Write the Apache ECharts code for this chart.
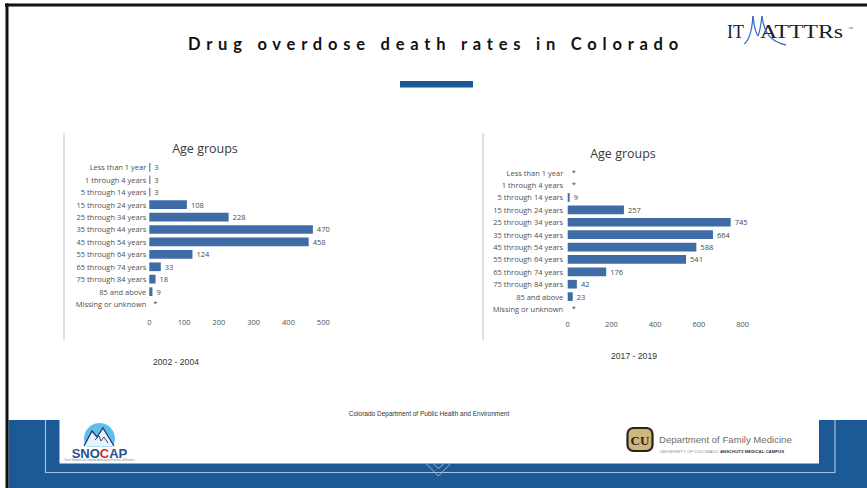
<!DOCTYPE html>
<html>
<head>
<meta charset="utf-8">
<script src="https://cdn.jsdelivr.net/npm/echarts@6/dist/echarts.min.js"></script>
<style>
html,body{margin:0;padding:0;background:#fff;}
#c{width:867px;height:488px;}
</style>
</head>
<body>
<div id="c"></div>
<script>
const categories = ['Less than 1 year','1 through 4 years','5 through 14 years','15 through 24 years','25 through 34 years','35 through 44 years','45 through 54 years','55 through 64 years','65 through 74 years','75 through 84 years','85 and above','Missing or unknown'];
const values2002 = [3,3,3,108,228,470,458,124,33,18,9,null];
const values2017 = [null,null,9,257,745,664,588,541,176,42,23,null];
const ticks2002 = [0,100,200,300,400,500];
const ticks2017 = [0,200,400,600,800];
const period2002 = '2002 - 2004';
const period2017 = '2017 - 2019';
const chartTitle = 'Age groups';
const mainTitle = 'Drug overdose death rates in Colorado';
const sourceText = 'Colorado Department of Public Health and Environment';

const BLUE = '#1b5a97';
const BAR = '#3f6ca6';
const LABEL_FONT = "'Open Sans', 'Noto Sans', sans-serif";

function seriesData(arr){
  return arr.map(v => v === null ? {value:0, label:{formatter:'*', offset:[0,-1]}} : v);
}

const chart = echarts.init(document.getElementById('c'), null, {renderer:'svg'});

const axisLabelStyle = {fontFamily: LABEL_FONT, fontSize: 7.5, color: '#505050'};

function curve(x1,y1,cx1,cy1,cx2,cy2,x2,y2){
  return {type:'bezierCurve', shape:{x1:x1,y1:y1,cpx1:cx1,cpy1:cy1,cpx2:cx2,cpy2:cy2,x2:x2,y2:y2},
          style:{fill:null, stroke:'#3d6fc6', lineWidth:1.3}};
}

const option = {
  animation: false,
  grid: [
    {left: 149.3, top: 161.1, width: 191.4, height: 149.2},
    {left: 567.7, top: 166.5, width: 196.9, height: 148.7}
  ],
  xAxis: [
    {gridIndex:0, type:'value', min:ticks2002[0], max:550, interval:ticks2002[1]-ticks2002[0],
     axisLine:{show:false}, axisTick:{show:false}, splitLine:{show:false},
     axisLabel:Object.assign({margin:8, showMaxLabel:false}, axisLabelStyle)},
    {gridIndex:1, type:'value', min:ticks2017[0], max:900, interval:ticks2017[1]-ticks2017[0],
     axisLine:{show:false}, axisTick:{show:false}, splitLine:{show:false},
     axisLabel:Object.assign({margin:5, showMaxLabel:false}, axisLabelStyle)}
  ],
  yAxis: [
    {gridIndex:0, type:'category', data:categories, inverse:true,
     axisLine:{show:false}, axisTick:{show:false},
     axisLabel:Object.assign({margin:3, interval:0}, axisLabelStyle)},
    {gridIndex:1, type:'category', data:categories, inverse:true,
     axisLine:{show:false}, axisTick:{show:false},
     axisLabel:Object.assign({margin:4.5, interval:0}, axisLabelStyle)}
  ],
  series: [
    {type:'bar', xAxisIndex:0, yAxisIndex:0, data:seriesData(values2002), barCategoryGap:'30%',
     itemStyle:{color:BAR},
     label:{show:true, position:'right', distance:4, fontFamily:LABEL_FONT, fontSize:7.5, color:'#484848'}},
    {type:'bar', xAxisIndex:1, yAxisIndex:1, data:seriesData(values2017), barCategoryGap:'30%',
     itemStyle:{color:BAR},
     label:{show:true, position:'right', distance:4, fontFamily:LABEL_FONT, fontSize:7.5, color:'#484848'}}
  ],
  graphic: [
    // slide border
    {type:'rect', shape:{x:5, y:3.5, width:862, height:3}, style:{fill:'#111'}, z:10},
    {type:'rect', shape:{x:5.5, y:3.5, width:3, height:485}, style:{fill:'#111'}, z:10},
    // main title
    {type:'text', id:'mainTitle', x:188, y:43.5, style:{text:mainTitle, font:"bold 16.5px Lato, 'Open Sans', sans-serif", fill:'#111', textAlign:'left', textVerticalAlign:'middle'}},
    // accent bar
    {type:'rect', shape:{x:400, y:81, width:73, height:6.5}, style:{fill:BLUE}},
    // ITMATTTRs logo
    {type:'text', x:727, y:32, style:{text:'IT', font:"18px 'Liberation Serif', serif", fill:'#1a1d2e', textVerticalAlign:'middle'}},
    {type:'text', x:760, y:32, scaleX:1.32, style:{text:'ATTTRs', font:"18px 'Liberation Serif', serif", fill:'#1a1d2e', textVerticalAlign:'middle'}},
    {type:'text', x:848, y:28, style:{text:'™', font:"5px 'Liberation Serif', serif", fill:'#555', textVerticalAlign:'middle'}},
    curve(744,44, 750,40, 752,30, 753,16),
    curve(753,16, 754,26, 756,33, 758,36),
    curve(758,36, 760,32, 761,24, 762,16),
    curve(762,16, 764,34, 772,42, 786,45),
    // chart frames
    {type:'line', shape:{x1:64, y1:133, x2:64, y2:340}, style:{stroke:'#d6d6d6', lineWidth:1.5}},
    {type:'line', shape:{x1:483, y1:133, x2:483, y2:340}, style:{stroke:'#d6d6d6', lineWidth:1.5}},
    // chart titles
    {type:'text', x:205, y:148.5, style:{text:chartTitle, font:"12.5px 'Open Sans', sans-serif", fill:'#3a3a3a', textAlign:'center', textVerticalAlign:'middle'}},
    {type:'text', x:623, y:153, style:{text:chartTitle, font:"12.5px 'Open Sans', sans-serif", fill:'#3a3a3a', textAlign:'center', textVerticalAlign:'middle'}},
    // periods
    {type:'text', x:176, y:361.5, style:{text:period2002, font:"normal 8.6px 'Liberation Sans', Arial, sans-serif", fill:'#333', textAlign:'center', textVerticalAlign:'middle'}},
    {type:'text', x:634, y:356, style:{text:period2017, font:"normal 8.6px 'Liberation Sans', Arial, sans-serif", fill:'#333', textAlign:'center', textVerticalAlign:'middle'}},
    // footer band
    {type:'rect', shape:{x:8.5, y:420, width:859, height:68}, style:{fill:BLUE}},
    {type:'rect', shape:{x:59.5, y:415, width:759.5, height:48.5}, style:{fill:'#fff'}},
    {type:'polyline', shape:{points:[[45.5,420],[45.5,472.5],[835,472.5],[835,420]]}, style:{stroke:'#a7bfda', lineWidth:1.2, fill:null}},
    {type:'polyline', shape:{points:[[426,463.5],[438.3,476],[450.7,463.5]]}, style:{stroke:'#9ab6d6', lineWidth:1, fill:null}},
    {type:'polyline', shape:{points:[[433,463.5],[438.5,468.5],[444,463.5]]}, style:{stroke:'#9ab6d6', lineWidth:1, fill:null}},
    {type:'text', x:429, y:413.5, style:{text:sourceText, font:"normal 6.5px 'Liberation Sans', Arial, sans-serif", fill:'#333', textAlign:'center', textVerticalAlign:'middle'}},
    // SNOCAP logo
    {type:'circle', shape:{cx:99.5, cy:438.5, r:15.5}, style:{fill:'#5bbfea'}},
    {type:'rect', shape:{x:80, y:446.5, width:40, height:10}, style:{fill:'#fff'}},
    {type:'polyline', shape:{points:[[84,446],[92,431],[97,437],[103,428],[114,446]]}, style:{stroke:'#23386b', lineWidth:1.3, fill:'#e8f4fb'}},
    {type:'polyline', shape:{points:[[95,440],[99,436],[101,441],[104,437],[108,443]]}, style:{stroke:'#23386b', lineWidth:0.9, fill:null}},
    {type:'text', x:99.5, y:453, style:{
      text:'{a|SNO}{c|C}{a|AP}', textAlign:'center', textVerticalAlign:'middle',
      rich:{a:{font:"bold 13px 'Liberation Sans', Arial, sans-serif", fill:'#2a4f8f'}, c:{font:"bold 13px 'Liberation Sans', Arial, sans-serif", fill:'#d22f2a'}}}},
    {type:'text', x:99.5, y:460.5, style:{text:'State Networks of Colorado Ambulatory Practices & Partners', font:"2.6px 'Liberation Sans', Arial, sans-serif", fill:'#6f7fa0', textAlign:'center', textVerticalAlign:'middle'}},
    // CU Department of Family Medicine logo
    {type:'rect', shape:{x:627.5, y:428, width:25, height:23, r:6}, style:{fill:'#cdb77d', stroke:'#2a2418', lineWidth:2.2}},
    {type:'text', x:640, y:440, style:{text:'CU', font:"bold 13px 'Liberation Serif', serif", fill:'#2a2418', textAlign:'center', textVerticalAlign:'middle'}},
    {type:'text', x:659, y:439.5, style:{text:'Department of Family Medicine', font:"normal 9.6px 'Liberation Sans', Arial, sans-serif", fill:'#6e6e6e', textVerticalAlign:'middle'}},
    {type:'text', x:660, y:451.5, style:{
      text:'{g|UNIVERSITY OF COLORADO }{b|ANSCHUTZ MEDICAL CAMPUS}', textVerticalAlign:'middle',
      rich:{g:{font:"4.3px 'Liberation Sans', Arial, sans-serif", fill:'#8a8a8a'}, b:{font:"bold 4.3px 'Liberation Sans', Arial, sans-serif", fill:'#333'}}}}
  ]
};

chart.setOption(option);

// letter spacing for the slide title (spread to the reference width)
(function(){
  const cv = document.createElement('canvas').getContext('2d');
  cv.font = "bold 16.5px Lato, 'Open Sans', sans-serif";
  const w = cv.measureText(mainTitle).width;
  const s = Math.max(0, (490 - w) / (mainTitle.length - 1));
  document.querySelectorAll('#c text').forEach(t => {
    if (t.textContent === mainTitle) t.setAttribute('letter-spacing', s.toFixed(2) + 'px');
  });
})();
</script>
</body>
</html>
